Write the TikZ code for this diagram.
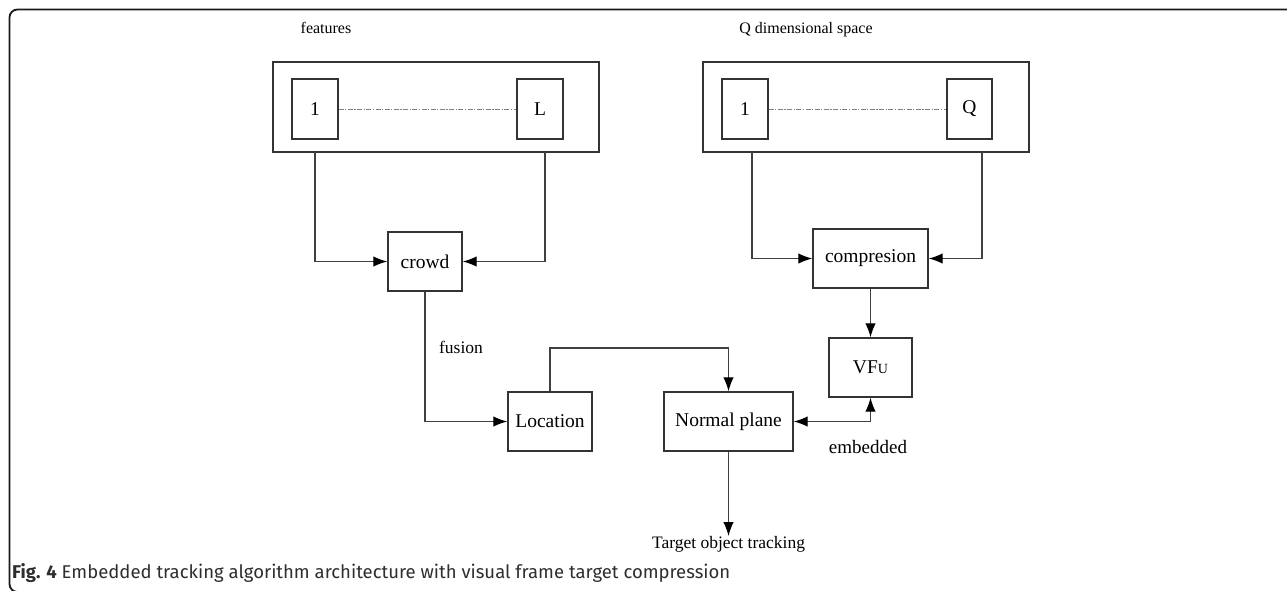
\documentclass[tikz,border=0pt]{standalone}
\usepackage{fontspec}
\setmainfont{Liberation Serif}
\newfontfamily\capfont{Fira Sans}
\usetikzlibrary{arrows.meta}
\definecolor{boxgray}{HTML}{333333}
\definecolor{linegray}{HTML}{404040}
\definecolor{framec}{HTML}{1A1A1A}
\definecolor{capc}{HTML}{2E2E2E}
\begin{document}
\begin{tikzpicture}[x=1pt,y=-1pt,
  box/.style={draw=boxgray, line width=1.4pt, inner sep=0pt, font=\fontsize{19.5}{22}\selectfont},
  conn/.style={draw=linegray, line width=1.3pt},
  tip/.tip={Latex[length=14pt,width=10.5pt,color=black]},
  arr/.style={conn, -tip},
  darr/.style={conn, tip-tip},
  dotdash/.style={draw=gray, line width=0.9pt, dash pattern=on 5pt off 1.5pt on 1.2pt off 1.5pt},
  lbl/.style={inner sep=0pt, font=\fontsize{16}{18}\selectfont},
  lblb/.style={inner sep=0pt, font=\fontsize{17.5}{20}\selectfont}]
\useasboundingbox (0,0) rectangle (1287,590);
% outer frame
\draw[framec, line width=1.8pt, rounded corners=8pt] (9.5,9.5) rectangle (1300,592);

% feature group
\node[box, minimum width=326pt, minimum height=90pt] (fbox) at (436,107) {};
\node[box, minimum width=46pt, minimum height=60pt] (f1) at (315,109) {1};
\node[box, minimum width=46pt, minimum height=60pt] (fL) at (540,109) {L};
\draw[dotdash] (f1.east) -- (fL.west);
\node[lbl, anchor=base] (featlbl) at (326,33) {features};

% Q dimensional space group
\node[box, minimum width=326pt, minimum height=90pt] (qbox) at (866,107) {};
\node[box, minimum width=46pt, minimum height=60pt] (q1) at (745,109) {1};
\node[box, minimum width=45pt, minimum height=60pt] (qQ) at (969.5,109) {Q};
\draw[dotdash] (q1.east) -- (qQ.west);
\node[lbl, anchor=base] (qlbl) at (806,33) {Q dimensional space};

% processing boxes
\node[box, minimum width=74pt, minimum height=59pt] (crowd) at (425,261.5) {crowd};
\node[box, minimum width=115pt, minimum height=59pt] (comp) at (870.5,258.5) {compresion};
\node[box, minimum width=83pt, minimum height=59pt] (vfu) at (870.5,367.5) {VF{\fontsize{14}{16}\selectfont U}};
\node[box, minimum width=84pt, minimum height=59pt] (loc) at (550,421.5) {Location};
\node[box, minimum width=129pt, minimum height=59pt] (np) at (728.5,421.5) {Normal plane};
\node[lblb, anchor=north] (target) at (728.5,536) {Target object tracking};

% connector corners
\coordinate (fa) at (315,152);
\coordinate (fb) at (545,152);
\coordinate (qa) at (752,152);
\coordinate (qb) at (982,152);
\coordinate (lup) at (550,348);

% connectors
\draw[arr] (fa) |- (crowd.west);
\draw[arr] (fb) |- (crowd.east);
\draw[arr] (qa) |- (comp.west);
\draw[arr] (qb) |- (comp.east);
\draw[arr] (comp.south) -- (vfu.north);
\draw[arr] (crowd.south) |- (loc.west);
\draw[arr] (loc.north) -- (lup) -| (np.north);
\draw[darr] (np.east) -| (vfu.south);
\draw[arr] (np.south) -- (target.north);

% labels
\node[lblb, anchor=base] (fuslbl) at (461,353) {fusion};
\node[inner sep=0pt, anchor=base, font=\fontsize{19}{21}\selectfont] (emblbl) at (868,453) {embedded};

% caption
\node[inner sep=0pt, anchor=base west, text=capc, font=\capfont\fontsize{18.5}{20}\selectfont] (cap) at (12,578)
  {\textbf{Fig. 4} Embedded tracking algorithm architecture with visual frame target compression};
\end{tikzpicture}
\end{document}
